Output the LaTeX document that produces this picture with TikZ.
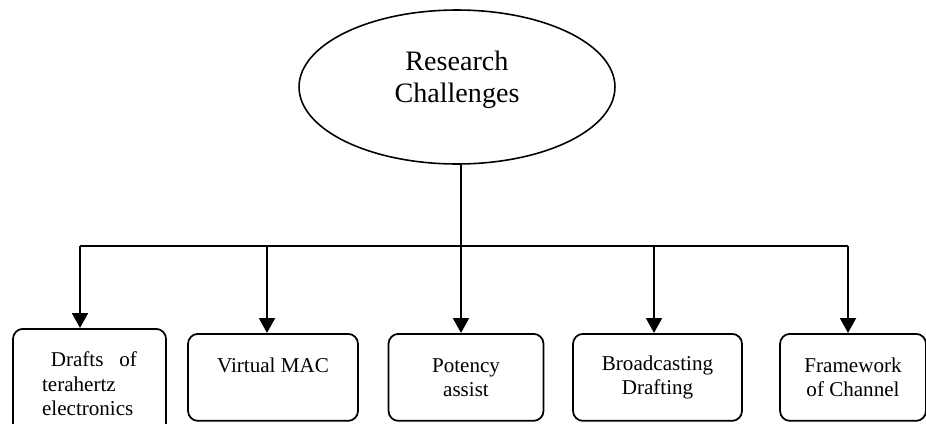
\documentclass[tikz,border=0pt]{standalone}
\usepackage{fontspec}
\setmainfont{Liberation Serif}
\usetikzlibrary{shapes.geometric}
\usetikzlibrary{arrows.meta}
\tikzset{%
  myedge/.style={->, line width=1.4pt, >={Triangle[width=9pt,length=8.5pt]}},
  mylink/.style={line width=1pt},
  myroot/.style={ellipse, draw=black, line width=0.9pt, minimum width=6.32cm, minimum height=3.08cm, inner sep=0pt, align=center, font=\fontsize{16}{18}\selectfont, text depth=12pt},
  mybox/.style={rectangle, rounded corners=0.2cm, draw=black, line width=1pt, minimum height=1.74cm, anchor=north, align=center, font=\fontsize{12}{13.8}\selectfont}
}

\begin{document}
\begin{tikzpicture}[x=0.02cm, y=-0.02cm]
  \useasboundingbox (0,0) rectangle (926,423);
  \node[myroot] (chal) at (457,87) {Research\\Challenges};
  \node[mybox, minimum width=3.06cm, minimum height=2.2cm, align=left] (draft) at (89.5,328) {\hspace{5pt}Drafts\hspace{9pt}of\\terahertz\\electronics};
  \node[mybox, minimum width=3.4cm] (vmac) at (273,333) {Virtual MAC\\~};
  \node[mybox, minimum width=3.1cm] (potency) at (466,333) {Potency\\assist};
  \node[mybox, minimum width=3.38cm] (bcast) at (657.5,333) {Broadcasting\\Drafting};
  \node[mybox, minimum width=2.92cm] (frame) at (853,333) {Framework\\of Channel};
  \coordinate (hub) at (461,246);
  \coordinate (busl) at (80,246);
  \coordinate (busr) at (848,246);
  \coordinate (b2) at (267,246);
  \coordinate (b4) at (654,246);
  \draw [mylink] (chal.south -| hub) -- (hub);
  \draw [mylink] (busl) -- (busr);
  \draw [myedge] (busl) -- (busl |- draft.north);
  \draw [myedge] (b2) -- (b2 |- vmac.north);
  \draw [myedge] (hub) -- (hub |- potency.north);
  \draw [myedge] (b4) -- (b4 |- bcast.north);
  \draw [myedge] (busr) -- (busr |- frame.north);
\end{tikzpicture}
\end{document}
